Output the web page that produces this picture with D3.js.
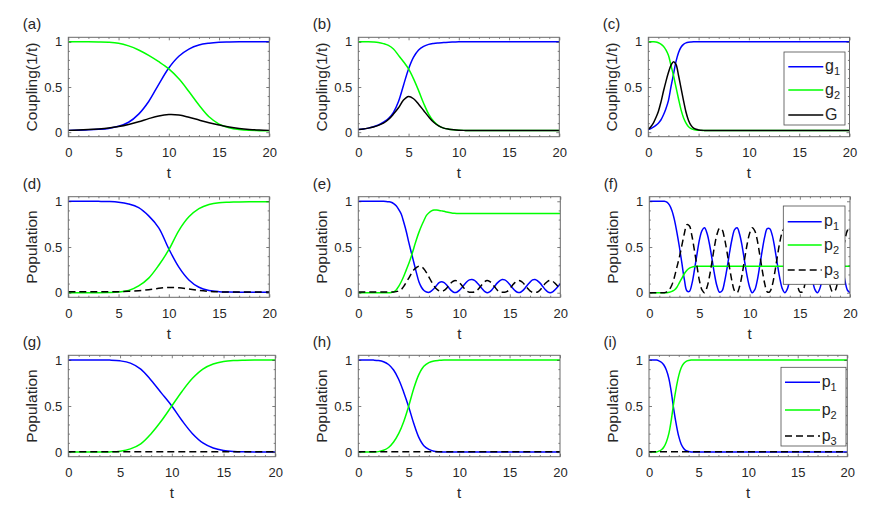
<!DOCTYPE html>
<html lang="en">
<head>
<meta charset="UTF-8">
<title>Coupling and population</title>
<style>
  body { margin: 0; background: #fff; }
  svg { display: block; font-family: "Liberation Sans", Arial, sans-serif; }
  .curve { fill: none; stroke-width: 1.5px; }
  .tick text { font-size: 13px; fill: #262626; }
  .lbl { font-size: 15px; fill: #262626; }
  .ylbl { font-size: 15.5px; fill: #262626; }
  .leg { font-size: 16px; fill: #262626; }
</style>
<script src="https://d3js.org/d3.v7.min.js"></script>
</head>
<body>
<div id="chart"></div>
<script>
// time grids (t from 0 to 20)
const T_1 = [0,1,2,3,4,5,6,7,8,9,10,11,12,13,14,15,16,17,18,19,20];
const T_2 = [0,0.5,1,1.5,2,2.5,3,3.5,4,4.5,5,5.5,6,6.5,7,7.5,8,8.5,9,9.5,
             10,10.5,11,11.5,12,12.5,13,13.5,14,14.5,15,15.5,16,16.5,17,17.5,18,18.5,19,19.5,20];
const T_4 = [0,0.25,0.5,0.75,1,1.25,1.5,1.75,2,2.25,2.5,2.75,3,3.25,3.5,3.75,
             4,4.25,4.5,4.75,5,5.25,5.5,5.75,6,6.25,6.5,6.75,7,7.25,7.5,7.75,
             8,8.25,8.5,8.75,9,9.25,9.5,9.75,10,10.25,10.5,10.75,11,11.25,11.5,11.75,
             12,12.25,12.5,12.75,13,13.25,13.5,13.75,14,14.25,14.5,14.75,15,15.25,15.5,15.75,
             16,16.25,16.5,16.75,17,17.25,17.5,17.75,18,18.25,18.5,18.75,19,19.25,19.5,19.75,20];
const T_F = [0,0.25,0.5,0.75,1,1.25,1.5,1.75,2,2.25,2.5,2.75,3,3.25,3.5,3.75,
             4,4.25,4.5,4.75,5,5.25,5.5,5.75,6,7,8,9,10,11,12,13,14,15,16,17,18,19,20];

// (a) couplings, on T_1
const A_G1 = [0.02,0.022,0.026,0.032,0.042,0.065,0.11,0.2,0.34,0.53,0.71,0.84,0.92,0.965,0.985,0.995,0.998,1,1,1,1];
const A_G2 = [1,1,1,0.999,0.996,0.985,0.955,0.91,0.85,0.78,0.7,0.59,0.45,0.3,0.17,0.09,0.05,0.03,0.02,0.017,0.015];
const A_G  = [0.02,0.024,0.029,0.036,0.046,0.062,0.085,0.115,0.15,0.18,0.195,0.19,0.165,0.135,0.105,0.08,0.058,0.042,0.031,0.024,0.02];

// (b) couplings, on T_2
const B_G1 = [0.03,0.035,0.045,0.06,0.08,0.11,0.15,0.22,0.34,0.52,0.7,0.83,0.91,0.95,0.972,0.982,0.988,0.993,0.996,0.998,
              1,1,1,1,1,1,1,1,1,1,1,1,1,1,1,1,1,1,1,1,1];
const B_G2 = [1,1,1,0.998,0.993,0.98,0.96,0.92,0.85,0.78,0.7,0.59,0.46,0.32,0.2,0.12,0.07,0.045,0.033,0.026,
              0.022,0.02,0.02,0.02,0.02,0.02,0.02,0.02,0.02,0.02,0.02,0.02,0.02,0.02,0.02,0.02,0.02,0.02,0.02,0.02,0.02];
const B_G  = [0.03,0.035,0.045,0.058,0.075,0.1,0.14,0.2,0.27,0.355,0.395,0.37,0.31,0.24,0.17,0.11,0.07,0.045,0.033,0.026,
              0.022,0.02,0.02,0.02,0.02,0.02,0.02,0.02,0.02,0.02,0.02,0.02,0.02,0.02,0.02,0.02,0.02,0.02,0.02,0.02,0.02];

// (c) couplings, on T_F
const C_G1 = [0.03,0.04,0.055,0.075,0.1,0.135,0.19,0.26,0.35,0.5,0.64,0.78,0.88,0.94,0.972,0.988,
              0.995,0.998,1,1,1,1,1,1,1,1,1,1,1,1,1,1,1,1,1,1,1,1,1];
const C_G2 = [1,1,1,0.998,0.99,0.975,0.95,0.91,0.85,0.74,0.63,0.5,0.37,0.25,0.16,0.1,
              0.06,0.04,0.03,0.025,0.022,0.02,0.02,0.02,0.02,0.02,0.02,0.02,0.02,0.02,0.02,0.02,0.02,0.02,0.02,0.02,0.02,0.02,0.02];
const C_G  = [0.03,0.06,0.1,0.16,0.23,0.33,0.45,0.56,0.66,0.74,0.78,0.75,0.63,0.49,0.35,0.22,
              0.13,0.075,0.045,0.032,0.025,0.022,0.02,0.02,0.02,0.02,0.02,0.02,0.02,0.02,0.02,0.02,0.02,0.02,0.02,0.02,0.02,0.02,0.02];

// (d) populations, on T_1
const D_P1 = [1,1,1,0.999,0.997,0.99,0.97,0.93,0.84,0.71,0.48,0.28,0.14,0.06,0.025,0.012,0.008,0.006,0.005,0.005,0.005];
const D_P2 = [0,0,0,0,0.002,0.007,0.025,0.075,0.16,0.3,0.47,0.68,0.83,0.92,0.965,0.985,0.99,0.993,0.995,0.995,0.995];
const D_P3 = [0.01,0.01,0.01,0.01,0.011,0.012,0.015,0.022,0.033,0.048,0.058,0.055,0.04,0.025,0.015,0.01,0.008,0.007,0.007,0.007,0.007];

// (e) populations, on T_4
const E_P1 = [1,1,1,1, 1,1,1,1, 1,1,1,0.998, 0.995,0.99,0.975,0.95,
              0.91,0.86,0.77,0.67, 0.55,0.44,0.33,0.22, 0.12,0.06,0.025,0.008, 0.004,0.02,0.045,0.08,
              0.11,0.12,0.11,0.085, 0.05,0.02,0.003,0.006, 0.025,0.055,0.09,0.12, 0.14,0.145,0.135,0.11,
              0.08,0.045,0.015,0.001, 0.01,0.035,0.07,0.105, 0.13,0.145,0.14,0.12, 0.09,0.055,0.025,0.005,
              0.003,0.02,0.05,0.085, 0.115,0.14,0.145,0.13, 0.105,0.07,0.035,0.01, 0,0.01,0.035,0.065, 0.1];
const E_P2 = [0,0,0,0, 0,0,0,0, 0,0,0,0, 0,0.003,0.01,0.03,
              0.07,0.12,0.18,0.25, 0.32,0.4,0.49,0.58, 0.66,0.73,0.79,0.845, 0.875,0.895,0.905,0.905,
              0.9,0.895,0.89,0.883, 0.877,0.872,0.869,0.867, 0.866,0.866,0.866,0.866, 0.866,0.866,0.866,0.866,
              0.866,0.866,0.866,0.866, 0.866,0.866,0.866,0.866, 0.866,0.866,0.866,0.866, 0.866,0.866,0.866,0.866,
              0.866,0.866,0.866,0.866, 0.866,0.866,0.866,0.866, 0.866,0.866,0.866,0.866, 0.866,0.866,0.866,0.866, 0.866];
const E_P3 = [0.008,0.008,0.008,0.008, 0.008,0.008,0.008,0.008, 0.008,0.008,0.008,0.008, 0.008,0.008,0.008,0.012,
              0.02,0.035,0.07,0.115, 0.16,0.21,0.25,0.275, 0.29,0.285,0.26,0.22, 0.17,0.12,0.075,0.04,
              0.02,0.015,0.025,0.05, 0.085,0.115,0.132,0.13, 0.11,0.08,0.045,0.018, 0.006,0.005,0.008,0.025,
              0.055,0.09,0.12,0.135, 0.125,0.1,0.065,0.03, 0.008,0.005,0.005,0.015, 0.045,0.08,0.11,0.13,
              0.132,0.115,0.085,0.05, 0.02,0.005,0.005,0.008, 0.03,0.065,0.1,0.125, 0.135,0.125,0.1,0.07, 0.035];

// (f) populations, on T_4
const F_P1 = [1,1,1,1, 1,1,1,0.99, 0.96,0.9,0.8,0.66, 0.5,0.32,0.14,0.02,
              0.015,0.1,0.25,0.42, 0.58,0.68,0.71,0.65, 0.53,0.37,0.2,0.07, 0.005,0.02,0.12,0.27,
              0.44,0.59,0.69,0.71, 0.64,0.51,0.34,0.18, 0.06,0,0.03,0.13, 0.29,0.46,0.61,0.7,
              0.7,0.63,0.49,0.32, 0.16,0.045,0,0.04, 0.15,0.31,0.48,0.62, 0.7,0.7,0.62,0.47,
              0.3,0.145,0.036,0, 0.048,0.17,0.33,0.5, 0.63,0.7,0.69,0.6, 0.45,0.28,0.13,0.027, 0.002];
const F_P2 = [0,0,0,0, 0,0,0,0, 0.005,0.015,0.03,0.06, 0.11,0.16,0.21,0.245,
              0.268,0.28,0.287,0.29, 0.29,0.29,0.29,0.29, 0.29,0.29,0.29,0.29, 0.29,0.29,0.29,0.29,
              0.29,0.29,0.29,0.29, 0.29,0.29,0.29,0.29, 0.29,0.29,0.29,0.29, 0.29,0.29,0.29,0.29,
              0.29,0.29,0.29,0.29, 0.29,0.29,0.29,0.29, 0.29,0.29,0.29,0.29, 0.29,0.29,0.29,0.29,
              0.29,0.29,0.29,0.29, 0.29,0.29,0.29,0.29, 0.29,0.29,0.29,0.29, 0.29,0.29,0.29,0.29, 0.29];
const F_P3 = [0,0,0,0, 0,0,0,0.01, 0.035,0.085,0.17,0.28, 0.39,0.52,0.65,0.745,
              0.73,0.62,0.46,0.29, 0.13,0.03,0,0.06, 0.18,0.34,0.51,0.64, 0.705,0.69,0.59,0.44,
              0.27,0.12,0.02,0, 0.07,0.2,0.37,0.53, 0.65,0.71,0.68,0.58, 0.42,0.25,0.1,0.01,
              0.01,0.08,0.22,0.39, 0.55,0.665,0.71,0.67, 0.56,0.4,0.23,0.09, 0.01,0.01,0.09,0.24,
              0.41,0.565,0.674,0.71, 0.662,0.54,0.38,0.21, 0.08,0.01,0.02,0.11, 0.26,0.43,0.58,0.683, 0.708];

// (g) populations, on T_1
const G_P1 = [1,1,1,1,0.998,0.99,0.965,0.9,0.78,0.64,0.5,0.34,0.2,0.1,0.045,0.018,0.007,0.003,0.001,0,0];
const G_P2 = [0,0,0,0,0.002,0.01,0.035,0.09,0.2,0.34,0.5,0.66,0.8,0.9,0.955,0.982,0.993,0.997,0.999,1,1];
const G_P3 = [0.003,0.003,0.003,0.003,0.003,0.003,0.003,0.003,0.003,0.003,0.003,0.003,0.003,0.003,0.003,0.003,0.003,0.003,0.003,0.003,0.003];

// (h) populations, on T_2
const H_P1 = [1,1,1,0.998,0.993,0.98,0.95,0.89,0.79,0.65,0.49,0.31,0.16,0.07,0.03,0.01,0.004,0.002,0.001,
              0,0,0,0,0,0,0,0,0,0,0,0,0,0,0,0,0,0,0,0,0,0];
const H_P2 = [0,0,0,0.001,0.005,0.02,0.05,0.11,0.2,0.33,0.5,0.69,0.84,0.93,0.97,0.988,0.995,0.998,0.999,
              1,1,1,1,1,1,1,1,1,1,1,1,1,1,1,1,1,1,1,1,1,1];
const H_P3 = [0.003,0.003,0.003,0.003,0.003,0.003,0.003,0.003,0.003,0.003,0.003,0.003,0.003,0.003,0.003,0.003,0.003,0.003,0.003,0.003,
              0.003,0.003,0.003,0.003,0.003,0.003,0.003,0.003,0.003,0.003,0.003,0.003,0.003,0.003,0.003,0.003,0.003,0.003,0.003,0.003,0.003];

// (i) populations, on T_F
const I_P1 = [1,1,1,0.998,0.99,0.975,0.945,0.89,0.8,0.65,0.46,0.3,0.17,0.085,0.04,0.015,
              0.006,0.002,0.001,0,0,0,0,0,0,0,0,0,0,0,0,0,0,0,0,0,0,0,0];
const I_P2 = [0,0,0,0.002,0.01,0.025,0.055,0.11,0.2,0.35,0.54,0.7,0.83,0.915,0.96,0.985,
              0.994,0.998,0.999,1,1,1,1,1,1,1,1,1,1,1,1,1,1,1,1,1,1,1,1];
const I_P3 = [0.003,0.003,0.003,0.003,0.003,0.003,0.003,0.003,0.003,0.003,0.003,0.003,0.003,0.003,0.003,0.003,
              0.003,0.003,0.003,0.003,0.003,0.003,0.003,0.003,0.003,0.003,0.003,0.003,0.003,0.003,0.003,0.003,0.003,0.003,0.003,0.003,0.003,0.003,0.003];

// axis ticks and legend labels
const X_TICKS = [0, 5, 10, 15, 20];
const X_MINOR = [1,2,3,4,6,7,8,9,11,12,13,14,16,17,18,19];
const Y_TICKS = [0, 0.5, 1];
const Y_MINOR = [0.1,0.2,0.3,0.4,0.6,0.7,0.8,0.9];
const LEG_G = [["g", "1"], ["g", "2"], ["G", ""]];
const LEG_P = [["p", "1"], ["p", "2"], ["p", "3"]];

const BLUE = "#0000ff", GREEN = "#00ff00", BLACK = "#000000";

// box layout: [left, right, top, bottom]
const ROWS = [[37.3, 136.7], [196.7, 297.3], [355.3, 456.7]];
const panels = [
  { tag: "(a)", box: [68.3, 269.3, ...ROWS[0]], t: T_1, yl: "Coupling(1/t)",
    lines: [[A_G1, BLUE], [A_G2, GREEN], [A_G, BLACK]] },
  { tag: "(b)", box: [358.3, 559.3, ...ROWS[0]], t: T_2, yl: "Coupling(1/t)",
    lines: [[B_G1, BLUE], [B_G2, GREEN], [B_G, BLACK]] },
  { tag: "(c)", box: [648.3, 849.5, ...ROWS[0]], t: T_F, yl: "Coupling(1/t)",
    lines: [[C_G1, BLUE], [C_G2, GREEN], [C_G, BLACK]],
    legend: { box: [784, 845, 52, 125], ys: [66.7, 90, 115], lx: [788.3, 823.3], tx: 825, labels: LEG_G } },
  { tag: "(d)", box: [68.3, 269.3, ...ROWS[1]], t: T_1, yl: "Population",
    lines: [[D_P1, BLUE], [D_P2, GREEN], [D_P3, BLACK, true]] },
  { tag: "(e)", box: [358.3, 560.3, ...ROWS[1]], t: T_4, yl: "Population",
    lines: [[E_P1, BLUE], [E_P2, GREEN], [E_P3, BLACK, true]] },
  { tag: "(f)", box: [649.3, 850, ...ROWS[1]], t: T_4, yl: "Population",
    lines: [[F_P1, BLUE], [F_P2, GREEN], [F_P3, BLACK, true]],
    legend: { box: [783.3, 845, 206, 284.3], ys: [221.7, 245, 270], lx: [787.7, 821.7], tx: 824, labels: LEG_P } },
  { tag: "(g)", box: [68.3, 275.3, ...ROWS[2]], t: T_1, yl: "Population",
    lines: [[G_P1, BLUE], [G_P2, GREEN], [G_P3, BLACK, true]] },
  { tag: "(h)", box: [358.3, 560, ...ROWS[2]], t: T_2, yl: "Population",
    lines: [[H_P1, BLUE], [H_P2, GREEN], [H_P3, BLACK, true]] },
  { tag: "(i)", box: [649, 847.3, ...ROWS[2]], t: T_F, yl: "Population",
    lines: [[I_P1, BLUE], [I_P2, GREEN], [I_P3, BLACK, true]],
    legend: { box: [781, 846, 367.3, 446], ys: [382.3, 410, 436], lx: [785, 820], tx: 821.7, labels: LEG_P } }
];

const svg = d3.select("#chart").append("svg")
  .attr("width", 872)
  .attr("height", 507);

const AXIS_COLOR = "#262626";

function tickAxis(g, axis, values, size, labels) {
  g.call(axis.tickValues(values).tickSize(size)
    .tickFormat(labels ? (d => d === 0.5 ? "0.5" : d3.format("d")(d)) : ""));
  g.select(".domain").remove();
  g.selectAll(".tick line").attr("stroke", AXIS_COLOR).attr("stroke-width", 0.6);
}

panels.forEach((p, k) => {
  const [left, right, top, bottom] = p.box;
  const x = d3.scaleLinear().domain([0, 20]).range([left, right]);
  const y = d3.scaleLinear().domain([-0.05, 1.05]).range([bottom, top]);
  const g = svg.append("g");

  svg.append("clipPath").attr("id", "clip" + k)
    .append("rect").attr("x", left).attr("y", top)
    .attr("width", right - left).attr("height", bottom - top);

  const line = d3.line()
    .x((d, i) => x(p.t[i]))
    .y(d => y(d))
    .curve(d3.curveCatmullRom.alpha(0.5));

  const plot = g.append("g").attr("clip-path", `url(#clip${k})`);
  p.lines.forEach(([vals, color, dashed]) => {
    plot.append("path")
      .datum(vals)
      .attr("class", "curve")
      .attr("stroke", color)
      .attr("stroke-dasharray", dashed ? "7,4" : null)
      .attr("d", line);
  });

  // ticks on all four sides, pointing inward
  tickAxis(g.append("g").attr("transform", `translate(0,${bottom})`), d3.axisBottom(x).tickPadding(11), X_TICKS, -3, true);
  tickAxis(g.append("g").attr("transform", `translate(0,${bottom})`), d3.axisBottom(x), X_MINOR, -1.6, false);
  tickAxis(g.append("g").attr("transform", `translate(0,${top})`), d3.axisTop(x), X_TICKS, -3, false);
  tickAxis(g.append("g").attr("transform", `translate(0,${top})`), d3.axisTop(x), X_MINOR, -1.6, false);
  tickAxis(g.append("g").attr("transform", `translate(${left},0)`), d3.axisLeft(y).tickPadding(6), Y_TICKS, -3, true);
  tickAxis(g.append("g").attr("transform", `translate(${left},0)`), d3.axisLeft(y), Y_MINOR, -1.6, false);
  tickAxis(g.append("g").attr("transform", `translate(${right},0)`), d3.axisRight(y), Y_TICKS, -3, false);
  tickAxis(g.append("g").attr("transform", `translate(${right},0)`), d3.axisRight(y), Y_MINOR, -1.6, false);
  g.selectAll(".tick text").attr("font-family", null).attr("font-size", null);

  g.append("rect")
    .attr("x", left).attr("y", top)
    .attr("width", right - left).attr("height", bottom - top)
    .attr("fill", "none").attr("stroke", "#6a6a6a").attr("stroke-width", 1);

  // labels
  g.append("text").attr("class", "lbl")
    .attr("x", left - 45.5).attr("y", top - 8)
    .text(p.tag);
  g.append("text").attr("class", "lbl")
    .attr("x", (left + right) / 2).attr("y", bottom + 41.5)
    .attr("text-anchor", "middle")
    .text("t");
  g.append("text").attr("class", "ylbl")
    .attr("transform", `translate(${left - 36.6},${(top + bottom) / 2}) rotate(-90)`)
    .attr("dy", "0.35em")
    .attr("text-anchor", "middle")
    .text(p.yl);

  if (p.legend) {
    const L = p.legend;
    const lg = g.append("g");
    lg.append("rect")
      .attr("x", L.box[0]).attr("y", L.box[2])
      .attr("width", L.box[1] - L.box[0]).attr("height", L.box[3] - L.box[2])
      .attr("fill", "#fff").attr("stroke", "#4d4d4d").attr("stroke-width", 0.8);
    p.lines.forEach(([vals, color, dashed], i) => {
      lg.append("line")
        .attr("x1", L.lx[0]).attr("x2", L.lx[1])
        .attr("y1", L.ys[i]).attr("y2", L.ys[i])
        .attr("stroke", color).attr("stroke-width", 1.5)
        .attr("stroke-dasharray", dashed ? "7,4" : null);
      const txt = lg.append("text").attr("class", "leg")
        .attr("x", L.tx).attr("y", L.ys[i] + 4.5);
      txt.append("tspan").text(L.labels[i][0]);
      if (L.labels[i][1]) {
        txt.append("tspan").attr("dy", 4).attr("font-size", "11px").text(L.labels[i][1]);
      }
    });
  }
});
</script>
</body>
</html>
